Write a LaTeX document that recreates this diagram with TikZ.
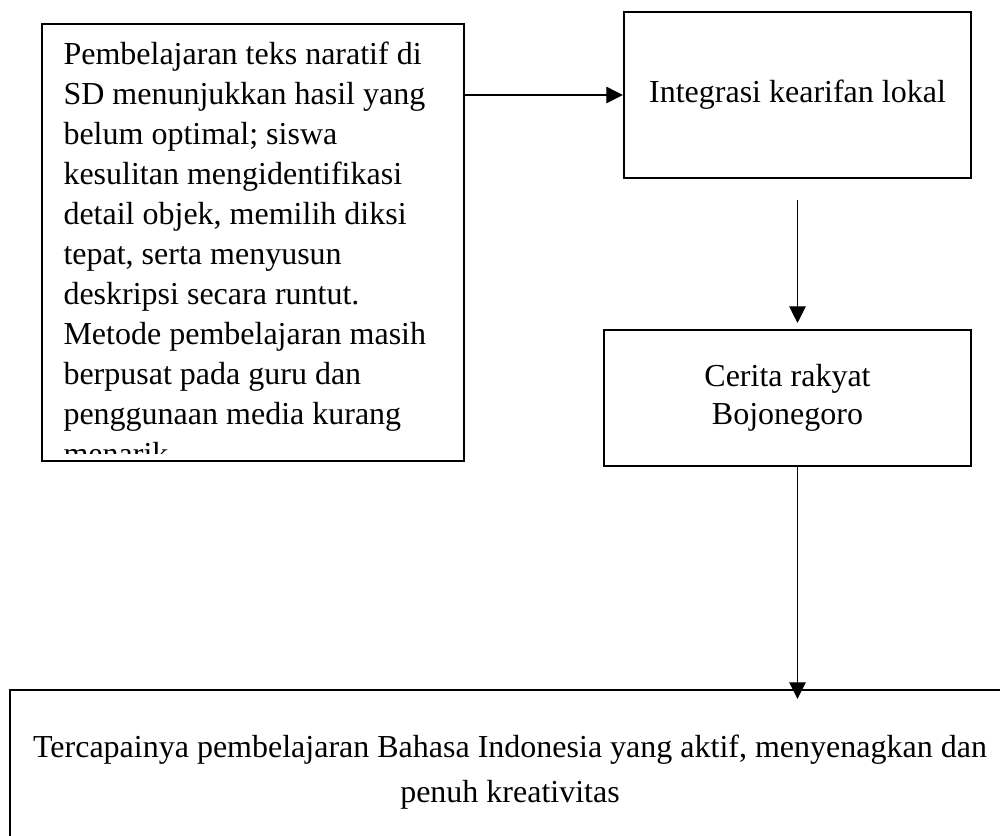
\documentclass[tikz,border=0pt]{standalone}
\usepackage{fontspec}
\setmainfont{Liberation Serif}
\usetikzlibrary{arrows.meta}
\begin{document}
\begin{tikzpicture}[x=0.375pt,y=-0.375pt]
\tikzstyle{bx} = [rectangle,draw=black,line width=0.9pt,inner sep=0pt] %box
\tikzstyle{de} = [-{Triangle[length=6.2pt,width=6.2pt]},line width=0.4pt] %directed edge
\useasboundingbox (0,0) rectangle (1000,835);
\clip (0,0) rectangle (1000,835);
\node[bx,minimum width=158.25pt,minimum height=163.9pt](vp)at(253,242.5){};
\begin{scope}
\clip (42,24) rectangle (464,453);
\node[anchor=north west,align=left,inner sep=0pt,font=\fontsize{12}{15}\selectfont](vt)at(63,41){Pembelajaran teks naratif di\\SD menunjukkan hasil yang\\belum optimal; siswa\\kesulitan mengidentifikasi\\detail objek, memilih diksi\\tepat, serta menyusun\\deskripsi secara runtut.\\Metode pembelajaran masih\\berpusat pada guru dan\\penggunaan media kurang\\menarik.};
\end{scope}
\node[bx,minimum width=130.1pt,minimum height=62.25pt,font=\fontsize{12}{15}\selectfont](vi)at(797.5,95){Integrasi kearifan lokal};
\node[bx,minimum width=137.6pt,minimum height=51pt,align=center,font=\fontsize{12}{14.25}\selectfont](vc)at(787.5,398){Cerita rakyat\\Bojonegoro};
\node[bx,minimum width=375pt,minimum height=61.5pt,align=center,font=\fontsize{12}{16.9}\selectfont](vg)at(510,772){Tercapainya pembelajaran Bahasa Indonesia yang aktif, menyenagkan dan\\penuh kreativitas};
\draw[de](vp.east|-vi.west)--(vi.west);
\draw[de,shorten <=7.9pt,shorten >=2.2pt](vi.south)--(vi.south|-vc.north);
\draw[de,shorten >=-3.75pt](vc.south-|vi.south)--(vi.south|-vg.north);
\end{tikzpicture}
\end{document}
